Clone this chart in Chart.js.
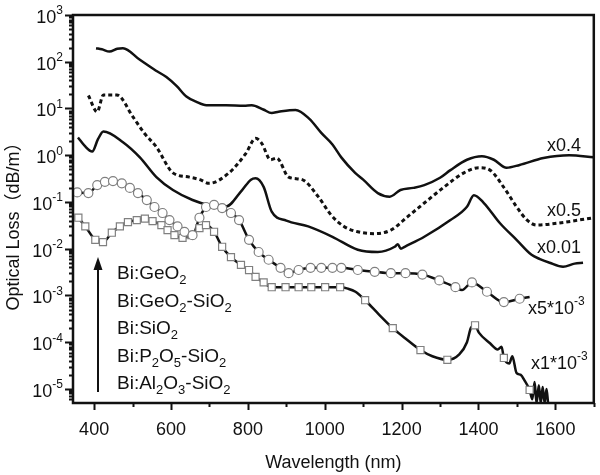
<!DOCTYPE html>
<html>
<head>
<meta charset="utf-8">
<script src="https://cdn.jsdelivr.net/npm/chart.js@4.4.1/dist/chart.umd.min.js"></script>
<style>
  body { margin: 0; background: #fff; }
  canvas { display: block; }
</style>
</head>
<body>
<canvas id="chart" width="600" height="475"></canvas>
<script>
// x0.4 curve (solid, top)
const wl04 = [405, 420, 440, 460, 475, 519, 560, 588, 615, 640, 665, 692, 743, 790, 810, 840, 862, 880, 924, 960, 991, 1020, 1043, 1079, 1100, 1138, 1169, 1197, 1230, 1259, 1300, 1327, 1370, 1409, 1440, 1473, 1507, 1569, 1636, 1700];
const loss04 = [195, 185, 165, 190, 195, 110, 65, 47, 30, 18, 14, 11.7, 11.7, 11.5, 11.7, 9.5, 8, 8.5, 9.3, 6, 3, 1.7, 0.9, 0.42, 0.3, 0.155, 0.13, 0.18, 0.2, 0.23, 0.33, 0.48, 0.8, 0.95, 0.8, 0.54, 0.62, 0.87, 1.0, 0.9];

// x0.5 curve (dashed)
const wl05 = [385, 408, 424, 459, 501, 530, 562, 605, 648, 675, 699, 751, 795, 820, 836, 859, 875, 906, 941, 983, 1017, 1050, 1086, 1130, 1172, 1215, 1259, 1311, 1362, 1401, 1430, 1465, 1499, 1525, 1551, 1603, 1700];
const loss05 = [19, 8.5, 19.5, 19.5, 6.6, 3, 1.5, 0.42, 0.34, 0.3, 0.25, 0.42, 1.1, 2.3, 1.8, 0.8, 0.87, 0.34, 0.3, 0.13, 0.052, 0.03, 0.023, 0.021, 0.025, 0.048, 0.095, 0.21, 0.42, 0.54, 0.48, 0.21, 0.079, 0.042, 0.032, 0.035, 0.046];

// x0.01 curve (solid)
const wl001 = [358, 375, 395, 410, 424, 475, 519, 562, 605, 656, 700, 743, 785, 808, 820, 841, 862, 900, 957, 1020, 1086, 1138, 1182, 1190, 1198, 1208, 1259, 1327, 1370, 1388, 1414, 1456, 1499, 1538, 1560, 1585, 1620, 1650, 1672];
const loss001 = [2.4, 1.6, 1.2, 2.2, 3.2, 1.9, 0.9, 0.34, 0.18, 0.11, 0.085, 0.08, 0.18, 0.3, 0.32, 0.21, 0.062, 0.04, 0.03, 0.018, 0.0095, 0.0085, 0.011, 0.0125, 0.010, 0.011, 0.018, 0.041, 0.079, 0.14, 0.095, 0.035, 0.0155, 0.0074, 0.006, 0.005, 0.0041, 0.0048, 0.005];

// x5*10^-3 curve (circles)
const wlCirc = [356, 385, 408, 428, 449, 472, 493, 514, 537, 557, 578, 596, 617, 635, 656, 674, 691, 712, 733, 756, 777, 803, 828, 854, 885, 906, 932, 963, 991, 1020, 1043, 1086, 1130, 1172, 1210, 1254, 1298, 1340, 1383, 1422, 1466, 1507];
const lossCirc = [0.16, 0.155, 0.23, 0.27, 0.28, 0.25, 0.2, 0.155, 0.11, 0.078, 0.058, 0.041, 0.03, 0.023, 0.0195, 0.046, 0.078, 0.087, 0.074, 0.058, 0.041, 0.0155, 0.0085, 0.0058, 0.0039, 0.003, 0.0035, 0.0039, 0.0039, 0.0039, 0.0039, 0.0035, 0.0032, 0.003, 0.003, 0.0028, 0.0021, 0.0015, 0.0019, 0.0012, 0.00072, 0.00085];
const wlCircLine = [1357, 1533];
const lossCircLine = [0.0013, 0.00093];

// x1*10^-3 curve (squares)
const wlSq = [359, 377, 403, 423, 446, 467, 488, 511, 532, 552, 575, 591, 609, 630, 653, 674, 691, 712, 733, 756, 782, 803, 820, 841, 862, 898, 932, 965, 1001, 1040, 1105, 1177, 1249, 1319, 1391, 1466, 1533];
const lossSq = [0.046, 0.03, 0.0155, 0.0138, 0.022, 0.03, 0.037, 0.041, 0.044, 0.039, 0.032, 0.025, 0.0195, 0.017, 0.0195, 0.0275, 0.032, 0.023, 0.011, 0.0066, 0.0045, 0.0035, 0.0025, 0.0019, 0.0015, 0.0015, 0.0015, 0.0015, 0.0015, 0.0015, 0.00079, 0.0002, 0.000068, 0.000042, 0.00023, 0.000046, 0.0000095];
const wlSqLine = [1060, 1080, 1140, 1210, 1280, 1350, 1370, 1380, 1401, 1430, 1450, 1460, 1480, 1488, 1499, 1510, 1520, 1540, 1546, 1551, 1557, 1562, 1567, 1572, 1577, 1581];
const lossSqLine = [0.0014, 0.0012, 0.0004, 0.00012, 0.00005, 0.000055, 0.0001, 0.0002, 0.00016, 0.000095, 0.00007, 0.00008, 0.000035, 0.00005, 0.000022, 0.00002, 0.000015, 0.000006, 0.000014, 0.000005, 0.000012, 0.000005, 0.000011, 0.000005, 0.00001, 0.000005];

const yExponents = [3, 2, 1, 0, -1, -2, -3, -4, -5];
const xTicks = [400, 600, 800, 1000, 1200, 1400, 1600];
const samples = ['Bi:GeO_2', 'Bi:GeO_2-SiO_2', 'Bi:SiO_2', 'Bi:P_2O_5-SiO_2', 'Bi:Al_2O_3-SiO_2'];
const scaleNotes = ['x0.4', 'x0.5', 'x0.01', 'x5*10^{-3}', 'x1*10^{-3}'];

const FONT = '"Liberation Sans", Arial, "Noto Sans CJK SC", sans-serif';

const toPoints = (xs, ys) => xs.map((x, i) => ({ x, y: ys[i] }));
const merged = (xa, ya, xb, yb) => toPoints(xa, ya).concat(toPoints(xb, yb)).sort((a, b) => a.x - b.x);

const lineSet = (data, dash) => ({
  data,
  showLine: true,
  borderColor: '#111',
  borderWidth: dash ? 3 : 2.5,
  borderDash: dash || [],
  pointRadius: 0,
  cubicInterpolationMode: 'monotone',
  order: 2,
});

const markerSet = (data, style, r) => ({
  data,
  showLine: false,
  pointStyle: style,
  pointRadius: r,
  pointBorderColor: '#808080',
  pointBorderWidth: 1.2,
  pointBackgroundColor: '#fff',
  order: 1,
});

// text with _x subscripts and ^{..} superscripts
function richText(ctx, text, x, y, size, align) {
  const parts = [];
  const re = /([_^])(\{[^}]*\}|.)/g;
  let last = 0, m;
  while ((m = re.exec(text))) {
    if (m.index > last) parts.push({ t: text.slice(last, m.index), k: '' });
    parts.push({ t: m[2].replace(/[{}]/g, ''), k: m[1] });
    last = re.lastIndex;
  }
  if (last < text.length) parts.push({ t: text.slice(last), k: '' });
  const small = Math.round(size * 0.68);
  let w = 0;
  parts.forEach(p => {
    ctx.font = (p.k ? small : size) + 'px ' + FONT;
    p.w = ctx.measureText(p.t).width;
    w += p.w;
  });
  let cx = align === 'right' ? x - w : x;
  ctx.textAlign = 'left';
  ctx.textBaseline = 'alphabetic';
  parts.forEach(p => {
    ctx.font = (p.k ? small : size) + 'px ' + FONT;
    const dy = p.k === '_' ? size * 0.28 : p.k === '^' ? -size * 0.48 : 0;
    ctx.fillText(p.t, cx, y + dy);
    cx += p.w;
  });
}

const frame = {
  id: 'frame',
  afterDraw(chart) {
    const { ctx, chartArea: a, scales } = chart;
    const xs = scales.x, ys = scales.y;
    ctx.save();
    ctx.strokeStyle = '#111';
    ctx.fillStyle = '#111';
    ctx.lineWidth = 2.5;
    ctx.strokeRect(a.left, a.top, a.right - a.left, a.bottom - a.top);

    // y ticks, major and minor
    ctx.lineWidth = 2;
    ctx.beginPath();
    for (let d = -6; d <= 3; d++) {
      for (let k = 1; k <= 9; k++) {
        const v = k * Math.pow(10, d);
        if (v < ys.min || v > ys.max) continue;
        const py = Math.round(ys.getPixelForValue(v)) + 0.5;
        ctx.moveTo(a.left, py);
        ctx.lineTo(a.left - (k === 1 ? 8 : 4), py);
      }
    }
    // x ticks
    for (let v = 400; v <= 1700; v += 100) {
      const px = Math.round(xs.getPixelForValue(v)) + 0.5;
      ctx.moveTo(px, a.bottom);
      ctx.lineTo(px, a.bottom + (v % 200 === 0 ? 7 : 4));
    }
    ctx.stroke();

    yExponents.forEach(e => {
      const py = ys.getPixelForValue(Math.pow(10, e));
      richText(ctx, '10^{' + e + '}', 63, py + 8, 18, 'right');
    });
    ctx.font = '18px ' + FONT;
    ctx.textAlign = 'center';
    ctx.textBaseline = 'middle';
    xTicks.forEach(v => ctx.fillText(String(v), xs.getPixelForValue(v), 430));

    ctx.fillText('Wavelength (nm)', (a.left + a.right) / 2, 463);
    ctx.save();
    ctx.translate(14, 222);
    ctx.rotate(-Math.PI / 2);
    ctx.fillText('Optical Loss（dB/m）', 0, 0);
    ctx.restore();

    // sample list with arrow
    samples.forEach((s, i) => richText(ctx, s, 117, 279 + i * 27.5, 19));
    ctx.lineWidth = 2;
    ctx.beginPath();
    ctx.moveTo(98, 392);
    ctx.lineTo(98, 266);
    ctx.stroke();
    ctx.beginPath();
    ctx.moveTo(98, 257);
    ctx.lineTo(93.5, 270);
    ctx.lineTo(102.5, 270);
    ctx.closePath();
    ctx.fill();

    // scaling factors
    const noteY = [151, 216, 253, 314, 369];
    const noteX = [547, 547, 537, 528, 531];
    scaleNotes.forEach((n, i) => richText(ctx, n, noteX[i], noteY[i], 18));
    ctx.restore();
  },
};

new Chart(document.getElementById('chart'), {
  type: 'scatter',
  data: {
    datasets: [
      lineSet(toPoints(wl04, loss04)),
      lineSet(toPoints(wl05, loss05), [4, 3]),
      lineSet(toPoints(wl001, loss001)),
      lineSet(merged(wlCirc, lossCirc, wlCircLine, lossCircLine)),
      lineSet(merged(wlSq, lossSq, wlSqLine, lossSqLine)),
      markerSet(toPoints(wlCirc, lossCirc), 'circle', 4.5),
      markerSet(toPoints(wlSq, lossSq), 'rect', 5),
    ],
  },
  options: {
    responsive: false,
    animation: false,
    layout: { padding: { left: 73, right: 2, top: 15, bottom: 72 } },
    plugins: { legend: { display: false }, tooltip: { enabled: false } },
    scales: {
      x: { type: 'linear', display: false, min: 345, max: 1700 },
      y: { type: 'logarithmic', display: false, min: 5e-6, max: 1000 },
    },
  },
  plugins: [frame],
});
</script>
</body>
</html>
